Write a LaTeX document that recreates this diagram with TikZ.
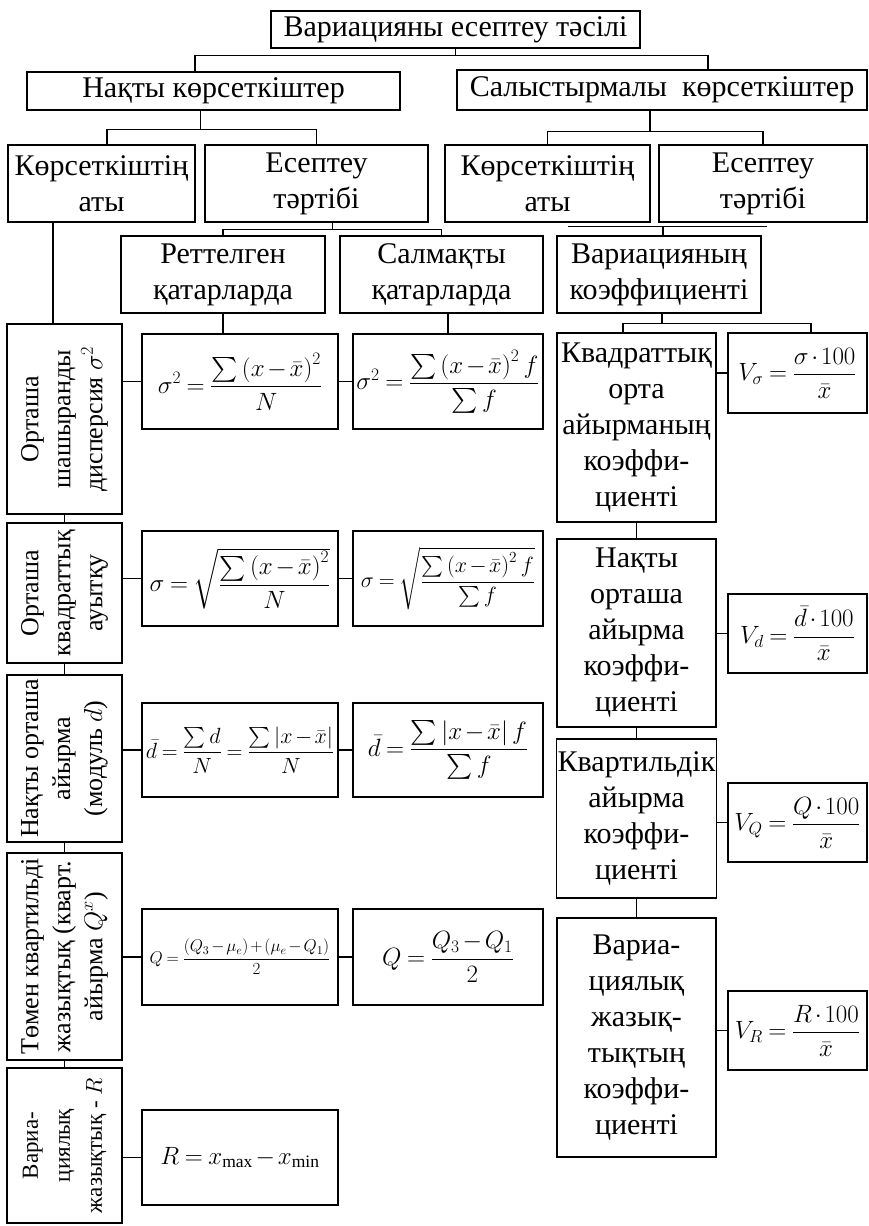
\RequirePackage{fix-cm}
\documentclass[tikz,border=0pt]{standalone}
\usepackage{amsmath}
\usepackage{fontspec}
\setmainfont{Liberation Serif}

\tikzset{
  box/.style={draw, line width=1.3pt, inner sep=1pt, align=center,
    font=\fontsize{30}{36}\selectfont},
  lbox/.style={draw, line width=1.3pt, minimum width=115},
  vtext/.style={rotate=90, align=center, font=\fontsize{26}{32}\selectfont},
  fbox/.style={draw, line width=1.3pt, inner sep=1pt,
    font=\fontsize{25}{30}\selectfont,
    execute at begin node={\thickmuskip=4mu plus 2mu\medmuskip=2mu}},
  link/.style={line width=1.1pt},
  wh/.style 2 args={minimum width=#1, minimum height=#2},
}

\begin{document}
\begin{tikzpicture}[x=1pt, y=-1pt]
\useasboundingbox (0,0) rectangle (869,1226);

% upper levels
\node[box, wh={369}{37}] (top) at (455.5,29.5) {Вариацияны есептеу тәсілі};
\node[box, wh={373}{38}] (nakty) at (213.5,91) {Нақты көрсеткіштер};
\node[box, wh={410}{40}] (salys) at (662,90) {Салыстырмалы\ \ көрсеткіштер};
\node[box, wh={187}{77}] (kat1) at (101.5,183.5) {Көрсеткіштің\\аты};
\node[box, wh={223}{77}] (esep1) at (316.5,183.5) {Есептеу\\тәртібі};
\node[box, wh={205}{77}] (kat2) at (547.5,183.5) {Көрсеткіштің\\аты};
\node[box, wh={208}{77}] (esep2) at (763,183.5) {Есептеу\\тәртібі};
\node[box, wh={204}{77}] (rett) at (223,274.5) {Реттелген\\қатарларда};
\node[box, wh={203}{77}] (salm) at (441.5,274.5) {Салмақты\\қатарларда};
\node[box, wh={204}{77}] (var) at (659,274.5) {Вариацияның\\коэффициенті};

% left column, names of the measures
\node[lbox, minimum height=190] (lsig2) at (64.5,419) {};
\node[vtext] at (lsig2) {Орташа\\шашыранды\\дисперсия $\sigma^2$};
\node[lbox, minimum height=140] (lsig) at (64.5,593) {};
\node[vtext] at (lsig) {Орташа\\квадраттық\\ауытқу};
\node[lbox, minimum height=167] (ld) at (64.5,758.5) {};
\node[vtext] at (ld) {Нақты орташа\\айырма\\(модуль $d$)};
\node[lbox, minimum height=207] (lq) at (64.5,956.5) {};
\node[vtext] at (lq) {Төмен квартильді\\жазықтық (кварт.\\айырма $Q^{x}$)};
\node[lbox, minimum height=155] (lr) at (64.5,1145.5) {};
\node[vtext, font=\fontsize{23}{32}\selectfont] at (lr)
  {Вариа-\\циялық\\жазықтық - $R$};

% ungrouped series
\node[fbox, wh={196}{95}] (fsig2) at (240,381.5)
  {$\sigma^2=\dfrac{\sum\left(x-\bar{x}\right)^2}{N}$};
\node[fbox, wh={196}{95}] (fsig) at (240,578.5)
  {$\sigma=\sqrt{\dfrac{\sum\left(x-\bar{x}\right)^2}{N}}$};
\node[fbox, wh={196}{94}, font=\fontsize{22}{26}\selectfont] (fd) at (240,750)
  {$\bar{d}=\dfrac{\sum d}{N}=\dfrac{\sum\left|x-\bar{x}\right|}{N}$};
\node[fbox, wh={196}{96}, font=\fontsize{17}{20}\selectfont] (fq) at (240,957)
  {$Q=\dfrac{(Q_3-\mu_e)+(\mu_e-Q_1)}{2}$};
\node[fbox, wh={196}{95}] (fr) at (240,1157.5) {$R=x_{\max}-x_{\min}$};

% weighted series
\node[fbox, wh={190}{95}] (gsig2) at (448,381.5)
  {$\sigma^2=\dfrac{\sum\left(x-\bar{x}\right)^2 f}{\sum f}$};
\node[fbox, wh={190}{95}, font=\fontsize{22}{26}\selectfont] (gsig) at (448,578.5)
  {$\sigma=\sqrt{\dfrac{\sum\left(x-\bar{x}\right)^2 f}{\sum f}}$};
\node[fbox, wh={190}{94}] (gd) at (448,750)
  {$\bar{d}=\dfrac{\sum\left|x-\bar{x}\right| f}{\sum f}$};
\node[fbox, wh={190}{96}] (gq) at (448,957) {$Q=\dfrac{Q_3-Q_1}{2}$};

% coefficients
\node[box, wh={159}{189}] (ksig) at (636.5,427.5)
  {Квадраттық\\орта\\айырманың\\коэффи-\\циенті};
\node[box, wh={159}{188}] (kd) at (636.5,633)
  {Нақты\\орташа\\айырма\\коэффи-\\циенті};
\node[box, wh={159}{159}] (kq) at (636.5,818.5)
  {Квартильдік\\айырма\\коэффи-\\циенті};
\node[box, wh={159}{239}] (kr) at (636.5,1037.5)
  {Вариа-\\циялық\\жазық-\\тықтың\\коэффи-\\циенті};
\node[fbox, wh={139}{80}] (vsig) at (797.5,373)
  {$V_\sigma=\dfrac{\sigma\cdot 100}{\bar{x}}$};
\node[fbox, wh={139}{79}] (vd) at (797.5,633.5)
  {$V_d=\dfrac{\bar{d}\cdot 100}{\bar{x}}$};
\node[fbox, wh={139}{79}] (vq) at (797.5,822.5)
  {$V_Q=\dfrac{Q\cdot 100}{\bar{x}}$};
\node[fbox, wh={139}{79}] (vr) at (797.5,1030.5)
  {$V_R=\dfrac{R\cdot 100}{\bar{x}}$};

% brackets
\draw[link] (top.south) -- ++(0,7) coordinate (t1);
\draw[link] ([xshift=-18.5pt]nakty.north) |- (t1) -| ([xshift=46pt]salys.north);
\draw[link] ([xshift=-13pt]nakty.south) -- ++(0,19) coordinate (n1);
\draw[link] ([xshift=5.5pt]kat1.north) |- (n1) -| (esep1.north);
\draw[link] ([xshift=-12pt]salys.south) -- ++(0,21) coordinate (s1);
\draw[link] (kat2.north) |- (s1) -| (esep2.north);
\draw[link] ([xshift=16pt]esep1.south) -- ++(0,7) coordinate (e1);
\draw[link] (rett.north) |- (e1) -| (salm.north);
\draw[link] ([xshift=4pt]var.north) -- ++(0,-9) coordinate (k1)
  ++(-95,0) -- ++(199,0);
\draw[link] ([xshift=3pt]var.south) -- ++(0,10) coordinate (v1);
\draw[link] ([xshift=-13.5pt]ksig.north) |- (v1) -| ([xshift=13.5pt]vsig.north);
\draw[link] ([xshift=-48.5pt]kat1.south) -- ++(0,102);
\draw[link] (rett.south) -- (rett.south |- fsig2.north);
\draw[link] (gsig2.north |- salm.south) -- (gsig2.north);

% chains and rows
\foreach \a/\b in {lsig2/lsig, lsig/ld, ld/lq, lq/lr, ksig/kd, kd/kq, kq/kr}
  \draw[link] (\a.south) -- (\b.north);
\foreach \a/\b in {lsig2/fsig2, fsig2/gsig2, lsig/fsig, fsig/gsig, ld/fd, fd/gd,
  lq/fq, fq/gq, lr/fr, ksig/vsig, kd/vd, kq/vq, kr/vr}
  \draw[link] (\a.east |- \b.west) -- (\b.west);
\end{tikzpicture}
\end{document}
